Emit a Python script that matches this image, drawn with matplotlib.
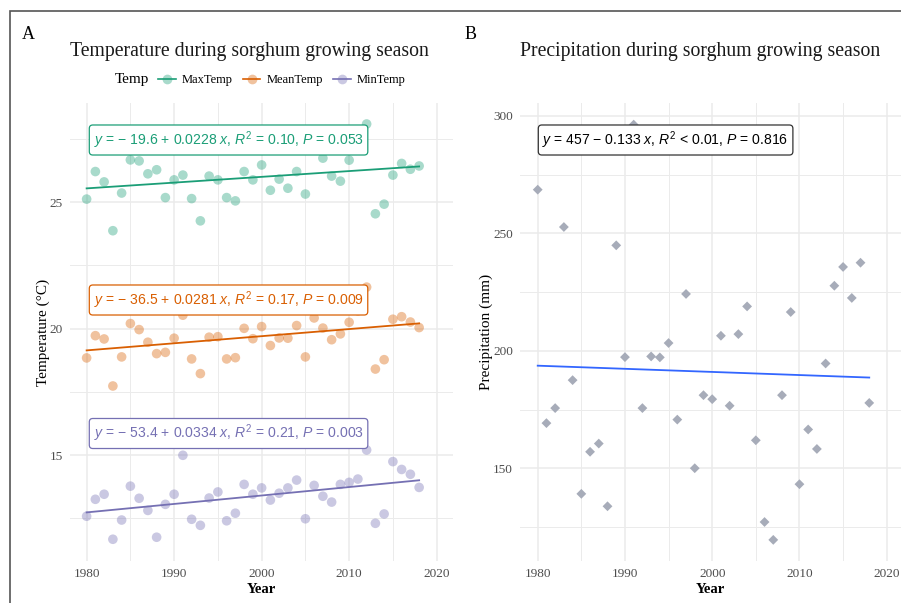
import matplotlib
matplotlib.use("Agg")
import matplotlib.pyplot as plt
from matplotlib.lines import Line2D
from matplotlib.patches import Rectangle
from matplotlib.colors import to_rgba
import numpy as np

# ---------------- data ----------------
years = list(range(1980, 2019))
max_temp = [25.12, 26.21, 25.80, 23.87, 25.36, 26.67, 26.63, 26.12, 26.28, 25.18,
            25.88, 26.07, 25.14, 24.26, 26.03, 25.88, 25.18, 25.05, 26.21, 25.88,
            26.47, 25.47, 25.91, 25.55, 26.21, 25.32, 27.07, 26.74, 26.03, 25.83,
            26.66, 27.50, 28.09, 24.54, 24.92, 26.07, 26.53, 26.30, 26.43]
mean_temp = [18.84, 19.72, 19.59, 17.73, 18.88, 20.20, 19.96, 19.46, 19.01, 19.06,
             19.62, 20.53, 18.80, 18.22, 19.66, 19.68, 18.80, 18.85, 20.01, 19.60,
             20.08, 19.33, 19.63, 19.62, 20.12, 18.88, 20.42, 20.02, 19.56, 19.79,
             20.25, 20.70, 21.64, 18.40, 18.77, 20.37, 20.47, 20.26, 20.04]
min_temp = [12.58, 13.25, 13.45, 11.67, 12.43, 13.77, 13.29, 12.81, 11.75, 13.05,
            13.45, 14.99, 12.46, 12.22, 13.30, 13.54, 12.40, 12.70, 13.84, 13.45,
            13.70, 13.22, 13.49, 13.70, 14.01, 12.48, 13.80, 13.37, 13.14, 13.84,
            13.92, 14.05, 15.20, 12.30, 12.67, 14.74, 14.43, 14.24, 13.72]
precip = [268.6, 169.2, 175.6, 252.7, 187.5, 139.1, 157.0, 160.5, 133.8, 244.9,
          197.3, 296.3, 175.6, 197.6, 197.2, 203.3, 170.7, 224.2, 150.0, 181.1,
          179.4, 206.4, 176.6, 207.1, 218.9, 161.9, 127.1, 119.5, 181.1, 216.5,
          143.2, 166.5, 158.2, 194.6, 227.7, 235.7, 222.5, 237.5, 177.8]

temp_names = ["MaxTemp", "MeanTemp", "MinTemp"]
temp_colors = ["#1B9E77", "#D95F02", "#7570B3"]
temp_intercepts = [-19.6, -36.5, -53.4]
temp_slopes = [0.0228, 0.0281, 0.0334]
temp_eq_labels = [
    r"$y$ = − 19.6 + 0.0228 $x$, $R^2$ = 0.10, $P$ = 0.053",
    r"$y$ = − 36.5 + 0.0281 $x$, $R^2$ = 0.17, $P$ = 0.009",
    r"$y$ = − 53.4 + 0.0334 $x$, $R^2$ = 0.21, $P$ = 0.003",
]
precip_intercept = 457
precip_slope = -0.133
precip_eq_label = r"$y$ = 457 − 0.133 $x$, $R^2$ < 0.01, $P$ = 0.816"

# ---------------- style ----------------
plt.rcParams["mathtext.fontset"] = "custom"
plt.rcParams["mathtext.rm"] = "Liberation Sans"
plt.rcParams["mathtext.it"] = "Liberation Sans:italic"
plt.rcParams["mathtext.bf"] = "Liberation Sans:bold"
SERIF = "Liberation Serif"
SANS = "Liberation Sans"
W, H = 901, 603

fig = plt.figure(figsize=(W / 100, H / 100), dpi=100)
fig.patch.set_facecolor("white")


def fx(x):
    return x / W


def fy(y):
    return 1 - y / H


def rect(l, t, r, b):
    return [fx(l), fy(b), (r - l) / W, (b - t) / H]


grid_c = "#EBEBEB"
tick_c = "#4D4D4D"


def style_ax(ax, xlim, ylim, ymaj, ymin):
    ax.set_xlim(*xlim)
    ax.set_ylim(*ylim)
    ax.set_xticks([1980, 1990, 2000, 2010, 2020])
    ax.set_xticks([1985, 1995, 2005, 2015], minor=True)
    ax.set_yticks(ymaj)
    ax.set_yticks(ymin, minor=True)
    ax.grid(True, which="major", color=grid_c, lw=1.1, zorder=0)
    ax.grid(True, which="minor", color=grid_c, lw=0.7, zorder=0)
    ax.set_axisbelow(True)
    for s in ax.spines.values():
        s.set_visible(False)
    ax.tick_params(which="both", length=0, pad=5, labelsize=9.5, labelcolor=tick_c)
    for lab in ax.get_xticklabels() + ax.get_yticklabels():
        lab.set_family(SERIF)
    ax.set_xlabel("Year", family=SERIF, fontsize=10.5, fontweight="bold", labelpad=2)


# ---------------- panel A ----------------
axA = fig.add_axes(rect(70, 103, 453, 561))
style_ax(axA, (1978.1, 2021.87), (10.81, 28.92), [15, 20, 25], [12.5, 17.5, 22.5, 27.5])
axA.set_ylabel("Temperature (°C)", family=SERIF, fontsize=11, labelpad=0)

yr = np.array(years)
line_x = np.array([years[0], years[-1]])
series = [max_temp, mean_temp, min_temp]
box_y = [140, 300, 433.5]
for vals, col, b0, b1, lab, by in zip(series, temp_colors, temp_intercepts,
                                      temp_slopes, temp_eq_labels, box_y):
    axA.scatter(yr, vals, s=48, color=col, alpha=0.38, edgecolors="none", zorder=2)
    axA.plot(line_x, b0 + b1 * line_x, color=col, lw=1.3, zorder=3)
    fig.text(fx(93.5), fy(by), lab, color=col, family=SANS, fontsize=10.1,
             ha="left", va="center", zorder=5,
             bbox=dict(boxstyle="round,pad=0.3,rounding_size=0.25", fc="white",
                       ec=col, lw=0.9))

# ---------------- panel B ----------------
axB = fig.add_axes(rect(520, 103, 901, 561))
style_ax(axB, (1977.97, 2021.64), (110.5, 305.5), [150, 200, 250, 300], [125, 175, 225, 275])
axB.set_ylabel("Precipitation (mm)", family=SERIF, fontsize=11, labelpad=0)
axB.scatter(yr, precip, s=25, marker="D", color="#A7ACB9", edgecolors="none", zorder=2)
axB.plot(line_x, precip_intercept + precip_slope * line_x, color="#3366FF", lw=1.3, zorder=3)
fig.text(fx(542.5), fy(140), precip_eq_label, color="black", family=SANS, fontsize=10.1,
         ha="left", va="center", zorder=5,
         bbox=dict(boxstyle="round,pad=0.3,rounding_size=0.25", fc="white",
                   ec="#333333", lw=0.9))

# ---------------- titles, panel letters ----------------
fig.text(fx(22), fy(39), "A", family=SERIF, fontsize=13, va="baseline", ha="left")
fig.text(fx(465), fy(39), "B", family=SERIF, fontsize=13, va="baseline", ha="left")
fig.text(fx(70), fy(56), "Temperature during sorghum growing season", family=SERIF,
         fontsize=14.2, va="baseline", ha="left", color="#1A1A1A")
fig.text(fx(520), fy(56), "Precipitation during sorghum growing season", family=SERIF,
         fontsize=14.2, va="baseline", ha="left", color="#1A1A1A")

# ---------------- legend ----------------
fig.text(fx(115), fy(80), "Temp", family=SERIF, fontsize=11, va="center", ha="left")
handles = [Line2D([], [], color=c, lw=1.2, marker="o", markersize=7,
                  markerfacecolor=to_rgba(c, 0.38), markeredgecolor="none")
           for c in temp_colors]
fig.legend(handles, temp_names, loc="center left", bbox_to_anchor=(fx(158), fy(80)),
           ncol=3, frameon=False, prop={"family": SERIF, "size": 9},
           handlelength=1.4, handletextpad=0.5, columnspacing=0.8,
           borderpad=0, borderaxespad=0)

# ---------------- outer frame ----------------
fig.add_artist(Rectangle((fx(10), fy(700)), fx(1000), (700 - 11) / H,
                         transform=fig.transFigure, fill=False, ec="#555555", lw=1.2))

fig.savefig("out.png", dpi=100)
